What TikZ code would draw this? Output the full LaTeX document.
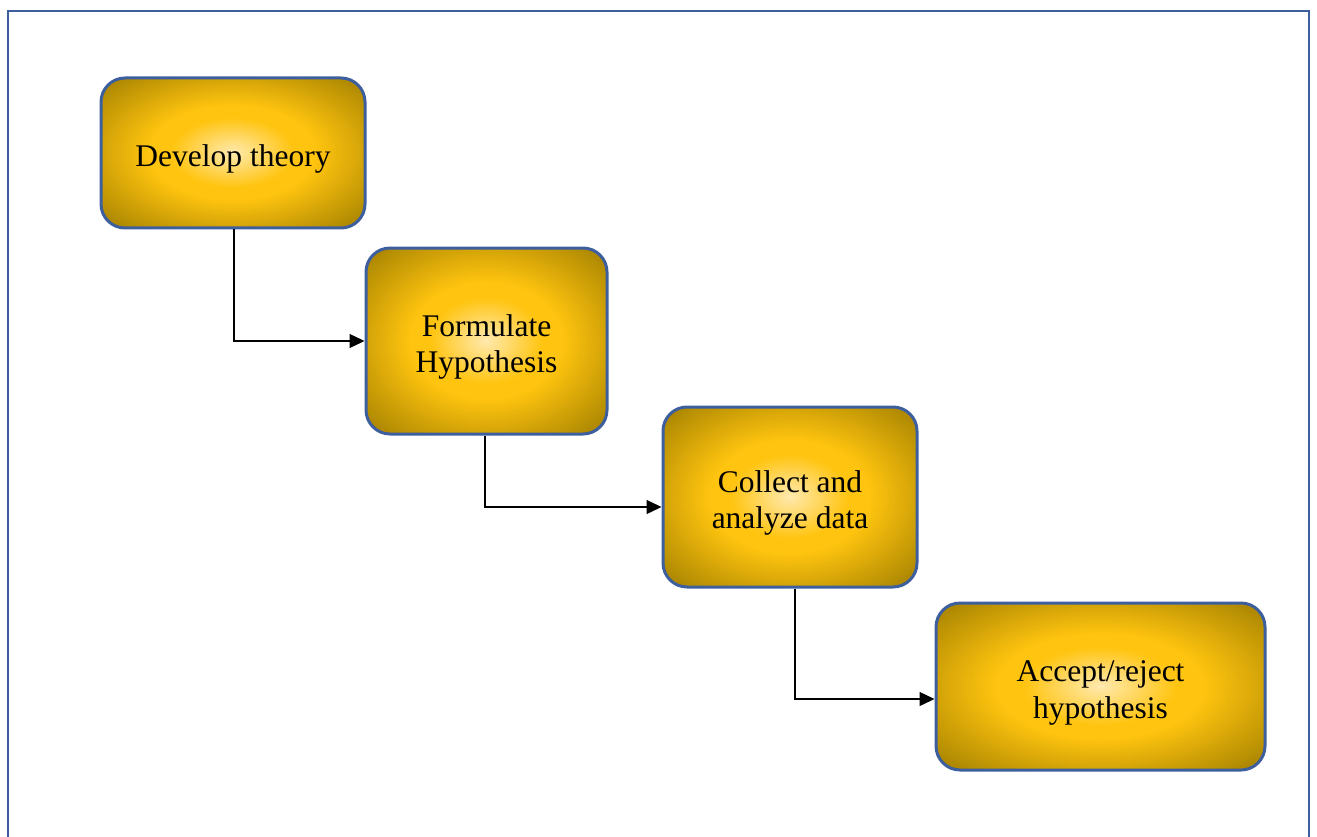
\documentclass[tikz,border=0pt]{standalone}
\usepackage{fontspec}
\setmainfont{Liberation Serif}
\usetikzlibrary{arrows.meta,calc}
\definecolor{goldlight}{HTML}{FFEBB3}
\definecolor{goldmid}{HTML}{FFC40F}
\definecolor{golddark}{HTML}{A38000}
\definecolor{boxblue}{HTML}{3D5F9E}
\newcommand\boxtext[1]{\raisebox{-6pt}[\height][\depth]{\begin{tabular}{@{}c@{}}#1\end{tabular}}}
\newcommand\goldfill{%
  \coordinate (ppc) at (path picture bounding box.center);
  \coordinate (ppne) at (path picture bounding box.north east);
  \foreach \i in {60,59,...,1}{%
    \pgfmathsetmacro\rr{\i/60}%
    \ifdim\rr pt<0.34pt
      \pgfmathsetmacro\pp{100*(1-\rr/0.34)}%
      \colorlet{ringc}{goldlight!\pp!goldmid}%
    \else
      \pgfmathsetmacro\pp{max(0,100*(\rr-0.45)/0.55)}%
      \colorlet{ringc}{golddark!\pp!goldmid}%
    \fi
    \fill[ringc] let \p1 = ($(ppne)-(ppc)$) in
      (ppc) ellipse [x radius={1.4142*\rr*abs(\x1)}, y radius={1.4142*\rr*abs(\y1)}];
  }%
}
\tikzset{
  stepbox/.style={draw=boxblue, line width=3pt, rounded corners=24pt,
    inner sep=0pt, font=\fontsize{31.5}{36.5}\selectfont,
    path picture={\goldfill}},
  conn/.style={draw=black, line width=1.3pt, -{Triangle[length=15pt,width=14pt]}}
}
\begin{document}
\begin{tikzpicture}[x=1pt,y=-1pt]
\useasboundingbox (0,0) rectangle (1317,837);
\draw[boxblue, line width=2.7pt] (8,11) rectangle (1309,860);
\node[stepbox, minimum width=264pt, minimum height=150pt] (n1) at (233,153) {\boxtext{Develop theory}};
\node[stepbox, minimum width=241pt, minimum height=186pt] (n2) at (486.5,341) {\boxtext{Formulate\\Hypothesis}};
\node[stepbox, minimum width=254pt, minimum height=180pt] (n3) at (790,497) {\boxtext{Collect and\\analyze data}};
\node[stepbox, minimum width=329pt, minimum height=167pt] (n4) at (1100.5,686.5) {\boxtext{Accept/reject\\hypothesis}};
\draw[conn] ([xshift=1pt]n1.south) |- (n2.west);
\draw[conn] ([xshift=-1.5pt]n2.south) |- ([yshift=-10pt]n3.west);
\draw[conn] ([xshift=5pt]n3.south) |- ([yshift=-12.5pt]n4.west);
\end{tikzpicture}
\end{document}
